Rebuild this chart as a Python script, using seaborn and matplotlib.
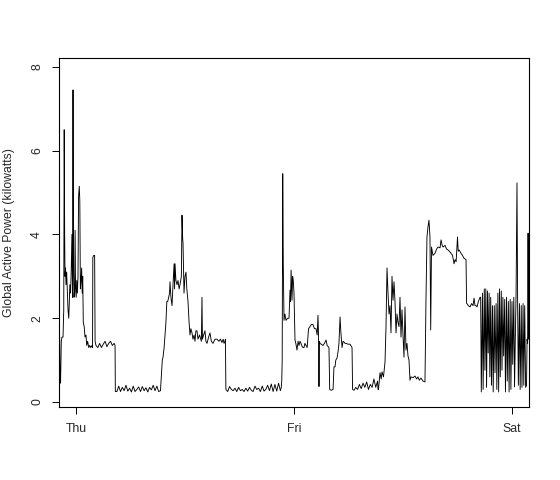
import matplotlib
matplotlib.use("Agg")
import matplotlib.pyplot as plt
import pandas as pd
import seaborn as sns

# Global active power (hours from Thu 00:00, kilowatts)
hours = [
    -1.85, -1.80, -1.76, -1.70, -1.62, -1.54, -1.43, -1.35, -1.30, -1.25,
    -1.21, -1.15, -1.10, -1.03, -0.95, -0.88, -0.80, -0.75, -0.68, -0.60,
    -0.52, -0.45, -0.38, -0.33, -0.28, -0.22, -0.15, -0.10, -0.05, 0.02,
    0.08, 0.15, 0.22, 0.28, 0.36, 0.42, 0.48, 0.55, 0.62, 0.68,
    0.74, 0.80, 0.90, 0.99, 1.10, 1.18, 1.28, 1.40, 1.50, 1.62,
    1.75, 1.82, 1.85, 1.95, 2.05, 2.10, 2.20, 2.40, 2.60, 2.80,
    3.00, 3.20, 3.40, 3.60, 3.80, 4.00, 4.20, 4.30, 4.33,
    # Thursday midday low
    4.5, 4.7, 4.9, 5.1, 5.3, 5.5, 5.7, 5.9, 6.1, 6.3, 6.5, 6.7, 6.9, 7.1,
    7.3, 7.5, 7.7, 7.9, 8.1, 8.3, 8.5, 8.7, 8.9, 9.1, 9.3,
    # Thursday morning peak
    9.36, 9.50, 9.58, 9.70, 9.80, 9.90, 10.0, 10.1, 10.2, 10.3, 10.35, 10.45,
    10.57, 10.7, 10.8, 10.85, 10.9, 11.0, 11.12, 11.23, 11.35, 11.45, 11.6,
    11.67, 11.74, 11.78, 11.89, 12.0, 12.11, 12.2, 12.33, 12.45, 12.55, 12.65,
    12.77, 12.88, 13.0, 13.1, 13.2, 13.32, 13.43, 13.6, 13.8, 13.87, 13.92,
    14.05, 14.2, 14.3, 14.42, 14.6, 14.75, 14.9, 15.08, 15.3, 15.52, 15.74,
    15.9, 16.07, 16.2, 16.3, 16.4, 16.45, 16.5,
    # Thursday evening / night low
    16.7, 16.9, 17.1, 17.3, 17.5, 17.7, 17.9, 18.1, 18.3, 18.5, 18.7, 18.9,
    19.1, 19.3, 19.5, 19.7, 19.9, 20.1, 20.3, 20.5, 20.7, 20.9, 21.1, 21.3,
    21.5, 21.7, 21.9, 22.1, 22.3, 22.5, 22.6, 22.65,
    # Friday morning
    22.70, 22.76, 22.82, 22.90, 23.0, 23.12, 23.3, 23.45, 23.56, 23.62, 23.68,
    23.75, 23.78, 23.85, 23.92, 24.0, 24.11, 24.2, 24.33, 24.45, 24.55, 24.66,
    24.77, 24.9, 25.0, 25.10, 25.2, 25.32, 25.45, 25.6, 25.76, 25.9, 26.09,
    26.25, 26.42, 26.55, 26.64, 26.70, 26.75, 26.80, 26.86, 27.0, 27.19, 27.35,
    27.53, 27.65, 27.85, 27.93, 28.1, 28.30, 28.4, 28.52, 28.6, 28.74, 28.85,
    28.95, 29.07, 29.15, 29.29, 29.4, 29.51, 29.62, 29.73, 29.95, 30.17, 30.39,
    30.45,
    # Friday afternoon low
    30.6, 30.8, 31.0, 31.2, 31.4, 31.6, 31.8, 32.0, 32.2, 32.4, 32.6, 32.8,
    33.0, 33.2, 33.25,
    # Friday evening
    33.3, 33.47, 33.6, 33.69, 33.85, 34.02, 34.13, 34.24, 34.35, 34.46, 34.57,
    34.68, 34.79, 34.90, 35.01, 35.12, 35.23, 35.34, 35.45, 35.56, 35.67, 35.78,
    35.89, 36.0, 36.11, 36.22, 36.33, 36.44, 36.55, 36.66, 36.77, 36.88, 37.1,
    37.32, 37.5, 37.65, 37.8, 37.98, 38.2, 38.42, 38.53, 38.64, 38.75, 38.86,
    38.97, 39.05, 39.14, 39.30, 39.52, 39.7, 39.86, 40.08, 40.19, 40.3, 40.41,
    40.63, 40.8, 40.96, 41.1, 41.29, 41.45, 41.62, 41.73, 41.85, 42.0, 42.08,
    42.17, 42.39, 42.55, 42.72, 42.94, 43.0, 43.2, 43.38, 43.55, 43.71, 43.82,
    43.93, 44.05, 44.15, 44.3, 44.48,
    # late night on/off cycling
    44.55, 44.62, 44.75, 44.82, 44.95, 45.02, 45.12, 45.2, 45.3, 45.38, 45.48,
    45.56, 45.66, 45.74, 45.85, 45.93, 46.05, 46.13, 46.25, 46.33, 46.45, 46.53,
    46.63, 46.71, 46.82, 46.9, 47.0, 47.08, 47.2, 47.28, 47.4, 47.48, 47.6,
    47.68, 47.8, 47.88, 48.0, 48.08, 48.2, 48.28, 48.45, 48.55, 48.62, 48.7,
    48.82, 48.9, 49.02, 49.1, 49.22, 49.3, 49.4, 49.5, 49.6, 49.66, 49.72,
    49.77, 49.82,
]
power = [
    1.40, 1.55, 0.50, 0.45, 1.45, 1.55, 1.55, 2.2, 6.5, 4.0,
    3.0, 3.2, 2.8, 3.1, 2.6, 2.2, 2.0, 2.3, 2.8, 2.6,
    3.2, 4.0, 2.5, 7.45, 3.2, 2.5, 2.7, 4.1, 2.7, 2.5,
    2.9, 2.6, 3.0, 4.9, 5.15, 4.8, 2.7, 2.9, 3.2, 2.6,
    3.0, 1.9, 1.8, 1.55, 1.6, 1.35, 1.45, 1.3, 1.35, 1.3,
    1.35, 1.3, 3.45, 3.5, 3.5, 1.45, 1.35, 1.3, 1.4, 1.3,
    1.38, 1.45, 1.32, 1.4, 1.45, 1.35, 1.4, 1.35, 0.25,
    0.25, 0.38, 0.25, 0.35, 0.27, 0.40, 0.26, 0.33, 0.24, 0.38, 0.25, 0.30, 0.36, 0.25,
    0.37, 0.27, 0.34, 0.24, 0.35, 0.29, 0.40, 0.27, 0.38, 0.25, 0.27,
    0.5, 1.0, 1.07, 1.3, 1.6, 1.9, 2.4, 2.4, 2.5, 2.6, 2.87, 2.5,
    2.3, 2.9, 3.3, 2.7, 3.3, 2.9, 2.8, 2.9, 2.7, 2.8, 3.0,
    4.46, 3.9, 3.8, 2.6, 3.0, 3.1, 2.7, 2.4, 1.9, 1.6, 1.75,
    1.65, 1.5, 1.6, 1.45, 1.7, 1.7, 1.5, 1.6, 1.45, 2.5, 1.5,
    1.6, 1.7, 1.45, 1.4, 1.55, 1.65, 1.45, 1.4, 1.5, 1.5, 1.45,
    1.5, 1.42, 1.5, 1.4, 1.45, 1.5, 0.3,
    0.25, 0.37, 0.30, 0.27, 0.33, 0.25, 0.35, 0.27, 0.30, 0.25, 0.33, 0.26,
    0.35, 0.28, 0.25, 0.38, 0.30, 0.33, 0.25, 0.38, 0.26, 0.30, 0.40, 0.27,
    0.43, 0.25, 0.42, 0.26, 0.45, 0.27, 0.35, 0.5,
    1.0, 5.45, 3.3, 1.95, 2.1, 1.95, 2.0, 2.0, 2.67, 2.4, 3.15,
    2.6, 2.43, 3.0, 2.9, 2.6, 1.48, 1.4, 1.24, 1.45, 1.35, 1.45,
    1.4, 1.32, 1.3, 1.3, 1.4, 1.35, 1.3, 1.75, 1.8, 1.85, 1.85,
    1.75, 1.75, 1.6, 2.07, 1.6, 0.37, 1.45, 1.4, 1.38, 1.35, 1.4,
    1.48, 1.35, 1.3, 0.3, 0.28, 0.3, 0.84, 0.84, 1.0, 1.05, 1.2,
    1.4, 2.03, 1.7, 1.3, 1.45, 1.43, 1.4, 1.4, 1.38, 1.38, 1.3,
    0.3,
    0.28, 0.35, 0.30, 0.42, 0.32, 0.45, 0.35, 0.48, 0.30, 0.42, 0.35, 0.55,
    0.35, 0.50, 0.30,
    0.3, 0.7, 0.55, 0.72, 0.6, 0.95, 1.8, 3.2, 2.6, 2.1, 2.3,
    1.65, 3.0, 2.43, 2.87, 2.4, 1.65, 2.1, 1.9, 1.8, 2.5, 1.55,
    2.2, 1.6, 1.07, 2.27, 1.24, 1.4, 1.1, 1.0, 0.52, 0.6, 0.58,
    0.62, 0.55, 0.6, 0.52, 0.57, 0.5, 0.48, 2.43, 3.94, 4.18, 4.34,
    3.94, 1.72, 3.7, 3.5, 3.55, 3.65, 3.7, 3.68, 3.87, 3.75, 3.7,
    3.74, 3.65, 3.63, 3.6, 3.55, 3.5, 3.3, 3.4, 3.35, 3.94, 3.6,
    3.63, 3.55, 3.5, 3.43, 3.4, 2.36, 2.3, 2.27, 2.35, 2.3, 2.48,
    2.3, 2.3, 2.27, 2.4, 2.5,
    2.5, 0.24, 2.6, 0.30, 2.7, 0.76, 2.7, 0.35, 2.65, 1.17, 2.6,
    0.6, 2.5, 0.4, 2.3, 0.24, 2.3, 0.7, 2.35, 0.3, 2.6, 0.24,
    2.7, 0.6, 2.65, 0.76, 2.5, 1.1, 2.45, 0.24, 2.5, 0.5, 2.4,
    0.24, 2.45, 0.3, 2.4, 0.9, 2.5, 0.36, 2.6, 5.23, 2.4, 0.4,
    2.35, 0.3, 2.3, 0.35, 2.35, 0.4, 2.3, 0.35, 0.4, 1.5, 1.4,
    4.03, 1.5,
]

day_ticks = [0, 24, 48]
day_labels = ["Thu", "Fri", "Sat"]
y_ticks = [0, 2, 4, 6, 8]

df = pd.DataFrame({"hours": hours, "power": power})

sns.set_style("white")
plt.rcParams["font.family"] = ["Liberation Sans", "DejaVu Sans"]

fig = plt.figure(figsize=(5.6, 4.8), dpi=100)
ax = fig.add_axes([0.1054, 0.152, 0.8392, 0.727])

sns.lineplot(data=df, x="hours", y="power", estimator=None, sort=False,
             color="black", linewidth=0.65, ax=ax)

ax.set_xlim(-1.87, 49.87)
ax.set_ylim(-0.12, 8.21)
ax.set_xticks(day_ticks)
ax.set_xticklabels(day_labels)
ax.set_yticks(y_ticks)
ax.set_yticklabels([str(v) for v in y_ticks])
ax.set_xlabel("")
ax.set_ylabel("Global Active Power (kilowatts)", fontsize=8.8)
ax.yaxis.set_label_coords(-0.094, 0.5)

ax.tick_params(axis="both", direction="out", length=5, width=0.7,
               color="black", labelsize=8.8, pad=6.5, bottom=True, left=True)
ax.tick_params(axis="y", labelrotation=90)
for lab in ax.get_yticklabels():
    lab.set_va("center")

for side in ax.spines.values():
    side.set_color("black")
    side.set_linewidth(0.8)

fig.savefig("out.png", dpi=100)
